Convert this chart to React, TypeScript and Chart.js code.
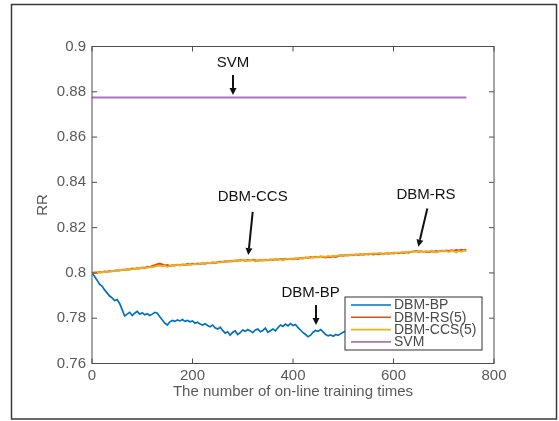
import { useEffect, useRef } from "react";
import { Chart, registerables } from "chart.js";

Chart.register(...registerables);

// Training runs are logged every SAMPLE_STEP on-line updates.
const SAMPLE_STEP = 5;

const X_TICKS = [0, 200, 400, 600, 800];
const Y_TICKS = [0.76, 0.78, 0.8, 0.82, 0.84, 0.86, 0.88, 0.9];

const SERIES_NAMES = ["DBM-BP", "DBM-RS(5)", "DBM-CCS(5)", "SVM"];
const SERIES_COLORS = ["#0072BD", "#D95319", "#EDB120", "#A974C0"];

// Recognition rate of each method, one value per sample (0 ... 745).
const DBM_BP = [
  0.8000, 0.7985, 0.7968, 0.7950, 0.7942, 0.7925, 0.7912, 0.7898, 0.7890, 0.7878,
  0.7882, 0.7865, 0.7838, 0.7810, 0.7818, 0.7826, 0.7812, 0.7822, 0.7830, 0.7818,
  0.7824, 0.7815, 0.7820, 0.7812, 0.7818, 0.7826, 0.7822, 0.7806, 0.7792, 0.7778,
  0.7770, 0.7784, 0.7790, 0.7786, 0.7792, 0.7788, 0.7794, 0.7786, 0.7790, 0.7784,
  0.7788, 0.7778, 0.7782, 0.7774, 0.7770, 0.7776, 0.7768, 0.7762, 0.7770, 0.7758,
  0.7752, 0.7760, 0.7746, 0.7734, 0.7740, 0.7725, 0.7738, 0.7744, 0.7728, 0.7736,
  0.7748, 0.7742, 0.7750, 0.7744, 0.7736, 0.7748, 0.7752, 0.7740, 0.7746, 0.7756,
  0.7738, 0.7745, 0.7752, 0.7744, 0.7758, 0.7770, 0.7764, 0.7774, 0.7766, 0.7776,
  0.7768, 0.7772, 0.7758, 0.7748, 0.7736, 0.7728, 0.7718, 0.7725, 0.7738, 0.7746,
  0.7742, 0.7750, 0.7740, 0.7728, 0.7722, 0.7726, 0.7720, 0.7728, 0.7724, 0.7732,
  0.7738, 0.7744, 0.7750, 0.7742, 0.7748, 0.7755, 0.7746, 0.7752, 0.7758, 0.7750,
  0.7756, 0.7748, 0.7754, 0.7760, 0.7752, 0.7758, 0.7750, 0.7756, 0.7762, 0.7754,
  0.7760, 0.7752, 0.7758, 0.7764, 0.7756, 0.7762, 0.7754, 0.7760, 0.7766, 0.7758,
  0.7762, 0.7756, 0.7764, 0.7758, 0.7766, 0.7760, 0.7768, 0.7762, 0.7758, 0.7764,
  0.7760, 0.7766, 0.7762, 0.7768, 0.7764, 0.7770, 0.7766, 0.7762, 0.7768, 0.7764,
];

const DBM_RS = [
  0.8000, 0.8002, 0.8001, 0.8004, 0.8003, 0.8006, 0.8005, 0.8008, 0.8007, 0.8010,
  0.8012, 0.8011, 0.8014, 0.8013, 0.8016, 0.8015, 0.8019, 0.8018, 0.8021, 0.8020,
  0.8024, 0.8022, 0.8027, 0.8026, 0.8031, 0.8034, 0.8039, 0.8041, 0.8037, 0.8033,
  0.8035, 0.8031, 0.8034, 0.8033, 0.8036, 0.8034, 0.8037, 0.8035, 0.8039, 0.8037,
  0.8040, 0.8038, 0.8042, 0.8040, 0.8043, 0.8041, 0.8045, 0.8043, 0.8046, 0.8044,
  0.8047, 0.8049, 0.8048, 0.8051, 0.8050, 0.8053, 0.8052, 0.8055, 0.8054, 0.8057,
  0.8056, 0.8054, 0.8057, 0.8055, 0.8058, 0.8056, 0.8054, 0.8057, 0.8055, 0.8058,
  0.8056, 0.8059, 0.8057, 0.8060, 0.8058, 0.8061, 0.8059, 0.8062, 0.8060, 0.8063,
  0.8061, 0.8064, 0.8062, 0.8066, 0.8064, 0.8068, 0.8066, 0.8070, 0.8068, 0.8071,
  0.8069, 0.8072, 0.8070, 0.8068, 0.8071, 0.8069, 0.8073, 0.8071, 0.8075, 0.8078,
  0.8076, 0.8079, 0.8077, 0.8080, 0.8078, 0.8081, 0.8079, 0.8082, 0.8080, 0.8083,
  0.8081, 0.8084, 0.8082, 0.8085, 0.8083, 0.8086, 0.8084, 0.8087, 0.8085, 0.8088,
  0.8086, 0.8089, 0.8087, 0.8090, 0.8088, 0.8091, 0.8089, 0.8093, 0.8095, 0.8097,
  0.8094, 0.8096, 0.8093, 0.8095, 0.8092, 0.8096, 0.8094, 0.8097, 0.8095, 0.8098,
  0.8096, 0.8099, 0.8097, 0.8100, 0.8098, 0.8101, 0.8099, 0.8102, 0.8100, 0.8103,
];

const DBM_CCS = [
  0.8000, 0.8001, 0.8003, 0.8002, 0.8005, 0.8004, 0.8007, 0.8006, 0.8009, 0.8008,
  0.8011, 0.8013, 0.8012, 0.8015, 0.8014, 0.8017, 0.8016, 0.8019, 0.8018, 0.8022,
  0.8021, 0.8024, 0.8023, 0.8026, 0.8025, 0.8028, 0.8030, 0.8032, 0.8029, 0.8033,
  0.8026, 0.8031, 0.8034, 0.8032, 0.8035, 0.8033, 0.8036, 0.8038, 0.8035, 0.8038,
  0.8037, 0.8040, 0.8038, 0.8041, 0.8044, 0.8042, 0.8045, 0.8043, 0.8047, 0.8045,
  0.8048, 0.8046, 0.8050, 0.8048, 0.8052, 0.8050, 0.8054, 0.8052, 0.8056, 0.8054,
  0.8058, 0.8056, 0.8053, 0.8057, 0.8055, 0.8050, 0.8056, 0.8054, 0.8058, 0.8055,
  0.8059, 0.8057, 0.8061, 0.8058, 0.8062, 0.8060, 0.8055, 0.8061, 0.8063, 0.8060,
  0.8064, 0.8062, 0.8066, 0.8063, 0.8067, 0.8065, 0.8069, 0.8067, 0.8071, 0.8068,
  0.8072, 0.8070, 0.8073, 0.8071, 0.8075, 0.8072, 0.8076, 0.8074, 0.8077, 0.8075,
  0.8079, 0.8077, 0.8080, 0.8078, 0.8082, 0.8079, 0.8083, 0.8080, 0.8084, 0.8082,
  0.8085, 0.8083, 0.8087, 0.8084, 0.8088, 0.8085, 0.8081, 0.8087, 0.8089, 0.8086,
  0.8090, 0.8088, 0.8091, 0.8089, 0.8093, 0.8090, 0.8094, 0.8092, 0.8096, 0.8093,
  0.8097, 0.8095, 0.8091, 0.8096, 0.8094, 0.8098, 0.8095, 0.8090, 0.8097, 0.8094,
  0.8099, 0.8096, 0.8092, 0.8098, 0.8095, 0.8090, 0.8097, 0.8093, 0.8099, 0.8096,
];

const SVM_RR = 0.8775;
const SVM_SPAN = [0, 745];

// Callouts: label centre, arrow tail and arrow tip, all in data units.
const CALLOUTS = [
  { text: "SVM", label: [280.6, 0.8928], tail: [280.6, 0.8874], tip: [280.6, 0.8786] },
  { text: "DBM-CCS", label: [319.8, 0.8337], tail: [319.8, 0.827], tip: [311, 0.8079] },
  { text: "DBM-RS", label: [664.7, 0.8344], tail: [667.3, 0.8285], tip: [649.4, 0.8116] },
  { text: "DBM-BP", label: [435, 0.7914], tail: [445.8, 0.7858], tip: [445.8, 0.777] },
];

const FONT = "'Liberation Sans', Arial, Helvetica, sans-serif";

const toPoints = (values: number[]) =>
  values.map((v, i) => ({ x: i * SAMPLE_STEP, y: v }));

const fmt = (v: number) => String(Number(v.toFixed(2)));

function drawArrow(ctx: CanvasRenderingContext2D, x0: number, y0: number, x1: number, y1: number) {
  const ang = Math.atan2(y1 - y0, x1 - x0);
  const head = 7;
  const half = 3.5;
  const bx = x1 - head * Math.cos(ang);
  const by = y1 - head * Math.sin(ang);
  ctx.beginPath();
  ctx.moveTo(x0, y0);
  ctx.lineTo(bx, by);
  ctx.stroke();
  ctx.beginPath();
  ctx.moveTo(x1, y1);
  ctx.lineTo(bx + half * Math.sin(ang), by - half * Math.cos(ang));
  ctx.lineTo(bx - half * Math.sin(ang), by + half * Math.cos(ang));
  ctx.closePath();
  ctx.fill();
}

const figurePlugin = {
  id: "figureDecor",
  afterDraw(chart: any) {
    const { ctx, chartArea: a, scales } = chart;
    const xs = scales.x;
    const ys = scales.y;
    ctx.save();

    // axes box with inward ticks
    ctx.strokeStyle = "#4d4d4d";
    ctx.lineWidth = 1;
    ctx.strokeRect(a.left, a.top, a.right - a.left, a.bottom - a.top);
    ctx.beginPath();
    const tl = 5;
    X_TICKS.forEach((t) => {
      const px = xs.getPixelForValue(t);
      ctx.moveTo(px, a.bottom);
      ctx.lineTo(px, a.bottom - tl);
      ctx.moveTo(px, a.top);
      ctx.lineTo(px, a.top + tl);
    });
    Y_TICKS.forEach((t) => {
      const py = ys.getPixelForValue(t);
      ctx.moveTo(a.left, py);
      ctx.lineTo(a.left + tl, py);
      ctx.moveTo(a.right, py);
      ctx.lineTo(a.right - tl, py);
    });
    ctx.stroke();

    // callouts
    ctx.fillStyle = "#111";
    ctx.strokeStyle = "#111";
    ctx.lineWidth = 2;
    ctx.font = `15px ${FONT}`;
    ctx.textAlign = "center";
    ctx.textBaseline = "middle";
    CALLOUTS.forEach((c) => {
      ctx.fillText(c.text, xs.getPixelForValue(c.label[0]), ys.getPixelForValue(c.label[1]));
      drawArrow(
        ctx,
        xs.getPixelForValue(c.tail[0]),
        ys.getPixelForValue(c.tail[1]),
        xs.getPixelForValue(c.tip[0]),
        ys.getPixelForValue(c.tip[1])
      );
    });

    // legend box in the lower-right corner of the axes
    const lx = a.right - 149;
    const ly = a.bottom - 66.5;
    const lw = 137;
    const lh = 53;
    ctx.fillStyle = "#fff";
    ctx.fillRect(lx, ly, lw, lh);
    ctx.strokeStyle = "#333";
    ctx.lineWidth = 1;
    ctx.strokeRect(lx, ly, lw, lh);
    ctx.font = `14px ${FONT}`;
    ctx.textAlign = "left";
    ctx.textBaseline = "middle";
    SERIES_NAMES.forEach((name, i) => {
      const ry = ly + 8 + i * 12.3;
      ctx.strokeStyle = SERIES_COLORS[i];
      ctx.lineWidth = 1.6;
      ctx.beginPath();
      ctx.moveTo(lx + 6, ry);
      ctx.lineTo(lx + 46, ry);
      ctx.stroke();
      ctx.fillStyle = "#4a4a4a";
      ctx.fillText(name, lx + 49, ry + 0.5);
    });

    // figure frame
    ctx.strokeStyle = "#3a3a3a";
    ctx.lineWidth = 1.5;
    ctx.strokeRect(11.5, 4.5, 545, 414.5);
    ctx.restore();
  },
};

export default function App() {
  const canvasRef = useRef<HTMLCanvasElement | null>(null);

  useEffect(() => {
    const canvas = canvasRef.current;
    if (!canvas) return;
    const line = (label: string, data: any[], color: string, order: number, width: number) => ({
      label,
      data,
      borderColor: color,
      backgroundColor: color,
      borderWidth: width,
      pointRadius: 0,
      tension: 0,
      fill: false,
      order,
    });
    const chart = new Chart(canvas, {
      type: "line",
      data: {
        datasets: [
          line(SERIES_NAMES[0], toPoints(DBM_BP), SERIES_COLORS[0], 2, 1.7),
          line(SERIES_NAMES[1], toPoints(DBM_RS), SERIES_COLORS[1], 1, 2),
          line(SERIES_NAMES[2], toPoints(DBM_CCS), SERIES_COLORS[2], 0, 1.8),
          line(
            SERIES_NAMES[3],
            SVM_SPAN.map((x) => ({ x, y: SVM_RR })),
            SERIES_COLORS[3],
            3,
            2
          ),
        ],
      },
      options: {
        responsive: false,
        animation: false,
        devicePixelRatio: 1,
        layout: { padding: { top: 46.5, right: 65, left: 0, bottom: 0 } },
        plugins: { legend: { display: false }, tooltip: { enabled: false } },
        scales: {
          x: {
            type: "linear",
            min: 0,
            max: 800,
            afterBuildTicks: (s: any) => {
              s.ticks = X_TICKS.map((value) => ({ value }));
            },
            afterFit: (s: any) => {
              s.height = 57.5;
            },
            grid: { display: false, drawTicks: false },
            border: { display: false },
            ticks: {
              padding: 3,
              color: "#5a5a5a",
              font: { family: FONT, size: 15 },
              maxRotation: 0,
              callback: (v: any) => String(v),
            },
            title: {
              display: true,
              text: "The number of on-line training times",
              color: "#5a5a5a",
              font: { family: FONT, size: 15 },
              padding: { top: 0, bottom: 20 },
            },
          },
          y: {
            type: "linear",
            min: 0.76,
            max: 0.9,
            afterBuildTicks: (s: any) => {
              s.ticks = Y_TICKS.map((value) => ({ value }));
            },
            afterFit: (s: any) => {
              s.width = 92;
            },
            grid: { display: false, drawTicks: false },
            border: { display: false },
            ticks: {
              padding: 6,
              color: "#5a5a5a",
              font: { family: FONT, size: 15 },
              callback: (v: any) => fmt(Number(v)),
            },
            title: {
              display: true,
              text: "RR",
              color: "#5a5a5a",
              font: { family: FONT, size: 15 },
              padding: { top: 34, bottom: 0 },
            },
          },
        },
      },
      plugins: [figurePlugin],
    });
    return () => chart.destroy();
  }, []);

  return (
    <div style={{ position: "absolute", left: 0, top: 0, width: 559, height: 421, background: "#fff" }}>
      <canvas ref={canvasRef} width={559} height={421} style={{ display: "block" }} />
    </div>
  );
}
